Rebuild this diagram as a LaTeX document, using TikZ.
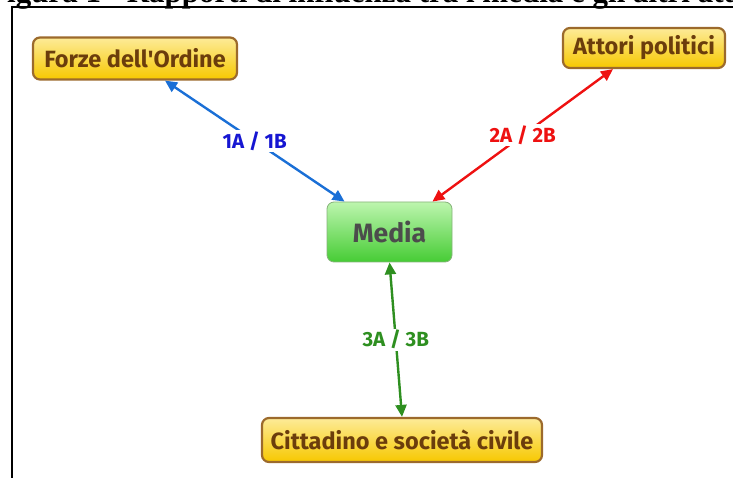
\documentclass[tikz,border=0pt]{standalone}
\usepackage{fontspec}
\setmainfont{Fira Sans}
\newfontfamily\titlefont{Liberation Serif}
\usepackage{tikz}
\usetikzlibrary{arrows.meta, calc}

\definecolor{boxedge}{HTML}{9C6A2C}
\definecolor{boxtext}{HTML}{6B3D0C}
\definecolor{boxtop}{HTML}{FDEB98}
\definecolor{boxbot}{HTML}{F7C800}
\definecolor{mediatop}{HTML}{BDF5AE}
\definecolor{mediabot}{HTML}{46CC35}
\definecolor{mediaedge}{HTML}{86B27A}
\definecolor{linkblue}{HTML}{1A6FD6}
\definecolor{labelblue}{HTML}{1616D2}
\definecolor{linkred}{HTML}{EE1111}
\definecolor{linkgreen}{HTML}{2E8F20}

\begin{document}
\begin{tikzpicture}[x=1pt, y=-1pt,
    actor/.style={draw=boxedge, line width=2.2pt, rounded corners=7pt,
      top color=boxtop, bottom color=boxbot, text=boxtext,
      font=\fontsize{23.5}{25}\selectfont\bfseries,
      inner sep=0pt, minimum height=42pt},
    link/.style={line width=2.4pt, {Triangle[length=12pt,width=11pt]}-{Triangle[length=12pt,width=11pt]}},
    tag/.style={fill=white, inner sep=1.5pt, font=\fontsize{20.5}{22}\selectfont\bfseries}]
  \useasboundingbox (0,0) rectangle (733,478);
  % titolo tagliato e cornice
  \node[anchor=base west, inner sep=0pt, font=\titlefont\fontsize{31}{33}\selectfont\bfseries] (titolo) at (-12,3)
      {Figura 1 - Rapporti di influenza tra i media e gli altri attori};
  \draw[line width=1.3pt] (12,490) |- (745,7);

  \node[actor, minimum width=204pt] (forze) at (135,58.5) {Forze dell\textquotesingle Ordine};
  \node[actor, minimum width=162pt, minimum height=40pt] (attori) at (644,48) {Attori politici};
  \node[actor, minimum width=280pt, minimum height=44pt] (citt) at (402,440) {Cittadino e società civile};
  \node[draw=mediaedge, line width=0.8pt, rounded corners=7pt, top color=mediatop, bottom color=mediabot,
      text=black!70, font=\fontsize{26.5}{28}\selectfont\bfseries,
      minimum width=125pt, minimum height=60pt] (media) at (389.5,232) {Media};

  \draw[link, linkblue] ([xshift=30pt]forze.south) -- ([xshift=18pt]media.north west)
      node[tag, midway, text=labelblue] (t1) {1A / 1B};
  \draw[link, linkred] ([xshift=-31pt]attori.south) -- ([xshift=-20pt]media.north east)
      node[tag, midway, text=linkred] (t2) {2A / 2B};
  \draw[link, linkgreen] (media.south) -- (citt.north)
      node[tag, midway, text=linkgreen] (t3) {3A / 3B};
\end{tikzpicture}
\end{document}
